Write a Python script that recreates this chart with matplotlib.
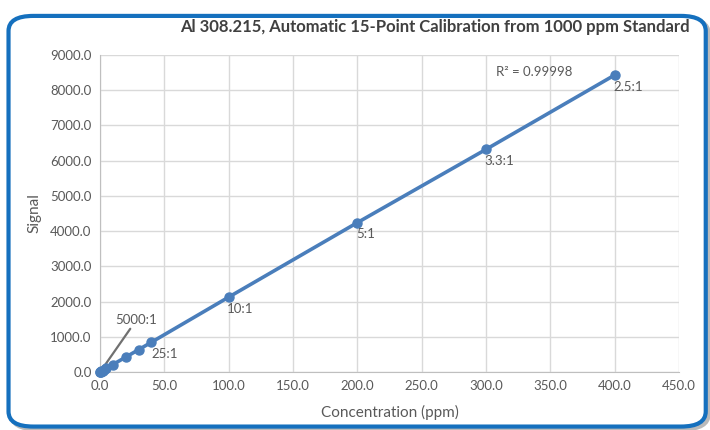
import matplotlib.pyplot as plt
from matplotlib.patches import FancyBboxPatch

# calibration data (concentration in ppm, instrument signal)
conc = [0.2, 0.4, 0.5, 1.0, 2.0, 4.0, 5.0, 10.0, 20.0, 30.0, 40.0, 100.0, 200.0, 300.0, 400.0]
signal = [4.3, 8.5, 10.6, 21.2, 42.3, 84.6, 105.5, 211.0, 422.0, 633.0, 845.0, 2125.0, 4240.0, 6320.0, 8430.0]

# dilution labels shown next to selected points
label_conc = [100.0, 200.0, 300.0, 400.0]
label_text = ['10:1', '5:1', '3.3:1', '2.5:1']

x_ticks = [0, 50, 100, 150, 200, 250, 300, 350, 400, 450]
y_ticks = [0, 1000, 2000, 3000, 4000, 5000, 6000, 7000, 8000, 9000]

plt.rcParams['font.family'] = ['Lato', 'DejaVu Sans']

TEXT = '#595959'
LINE = '#4A7EBB'

fig = plt.figure(figsize=(7.1, 4.3), dpi=100)

# soft shadow + rounded blue frame around the chart
shadow = FancyBboxPatch((0.016, 0.002), 0.982, 0.955,
                        boxstyle='round,pad=0,rounding_size=0.035',
                        transform=fig.transFigure, facecolor='none',
                        edgecolor='#8C8C8C', linewidth=3, alpha=0.6, zorder=-6)
frame = FancyBboxPatch((0.012, 0.008), 0.982, 0.955,
                       boxstyle='round,pad=0,rounding_size=0.035',
                       transform=fig.transFigure, facecolor='white',
                       edgecolor='#1570BE', linewidth=3, zorder=-5)
fig.patches.extend([shadow, frame])

ax = fig.add_axes([0.1408, 0.1349, 0.8155, 0.7372])
ax.set_facecolor('none')

ax.plot(conc, signal, color=LINE, linewidth=2.6, marker='o',
        markersize=6.5, zorder=5, clip_on=False)

for c, t in zip(label_conc, label_text):
    s = signal[conc.index(c)]
    ax.annotate(t, (c, s), xytext=(-1, -4), textcoords='offset points',
                ha='left', va='top', fontsize=9.5, color=TEXT)

# 25:1 label and 5000:1 label with leader line
ax.annotate('25:1', (40.0, 845.0), xytext=(0, -4), textcoords='offset points',
            ha='left', va='top', fontsize=9.5, color=TEXT)
ax.annotate('5000:1', (0.2, 4.3), xytext=(11, 33), textcoords='offset points',
            ha='left', va='bottom', fontsize=9.5, color=TEXT,
            arrowprops=dict(arrowstyle='-', color='#707070', lw=1.6,
                            shrinkA=0, shrinkB=0))

ax.text(308, 8520, 'R² = 0.99998', fontsize=9.5, color=TEXT, ha='left', va='center')

ax.set_xlim(0, 450)
ax.set_ylim(0, 9000)
ax.set_xticks(x_ticks)
ax.set_yticks(y_ticks)
ax.set_xticklabels([f'{v:.1f}' for v in x_ticks])
ax.set_yticklabels([f'{v:.1f}' for v in y_ticks])
ax.tick_params(colors=TEXT, labelsize=9.5, length=0, pad=6)
ax.grid(True, color='#D9D9D9', linewidth=1)
ax.set_axisbelow(True)
for side in ['top', 'right']:
    ax.spines[side].set_visible(False)
for side in ['left', 'bottom']:
    ax.spines[side].set_color('#BFBFBF')

ax.set_xlabel('Concentration (ppm)', fontsize=11, color=TEXT, labelpad=9)
ax.set_ylabel('Signal', fontsize=11, color=TEXT, labelpad=6)

fig.text(0.613, 0.937, 'Al 308.215, Automatic 15-Point Calibration from 1000 ppm Standard',
         ha='center', va='center', fontsize=12, fontweight='bold', color='#404040')

plt.savefig('out.png', dpi=100)
plt.close()
